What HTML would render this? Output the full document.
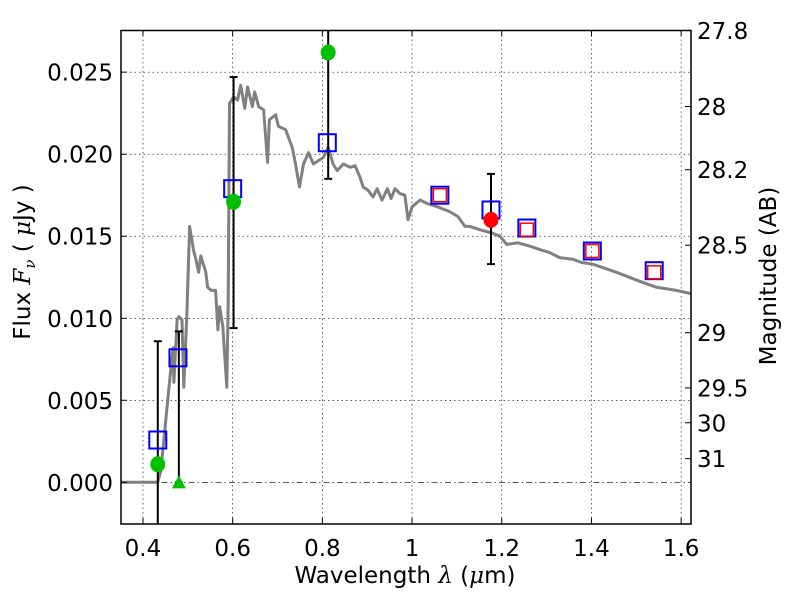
<!DOCTYPE html>
<html><head><meta charset="utf-8"><style>
html,body{margin:0;padding:0;background:#fff;overflow:hidden;width:800px;height:600px;}
svg{display:block;font-family:"DejaVu Sans","Liberation Sans",sans-serif;}
</style></head><body>
<svg id="chart" width="800" height="600" viewBox="0 0 800 600" xmlns="http://www.w3.org/2000/svg"></svg>
<script>
const specWave=[0.351,0.433,0.440,0.451,0.458,0.467,0.469,0.476,0.480,0.487,0.491,0.498,0.504,0.513,0.518,0.524,0.529,0.540,0.544,0.552,0.562,0.567,0.571,0.578,0.587,0.590,0.593,0.602,0.611,0.618,0.627,0.633,0.644,0.649,0.658,0.669,0.678,0.682,0.696,0.702,0.718,0.733,0.740,0.749,0.758,0.769,0.780,0.791,0.802,0.813,0.824,0.833,0.847,0.862,0.873,0.884,0.891,0.902,0.913,0.922,0.933,0.945,0.953,0.962,0.973,0.984,0.991,1.000,1.018,1.033,1.056,1.084,1.102,1.118,1.129,1.151,1.178,1.196,1.211,1.236,1.262,1.284,1.307,1.329,1.358,1.378,1.402,1.424,1.456,1.484,1.513,1.544,1.589,1.622];
const specFlux=[0,0,0.00075,0.0038,0.0058,0.0082,0.0061,0.0099,0.0101,0.0099,0.0058,0.0103,0.0156,0.0141,0.0136,0.0128,0.0138,0.0128,0.0119,0.0117,0.0117,0.0093,0.0107,0.0095,0.0058,0.0110,0.0231,0.0235,0.0233,0.0242,0.0228,0.0241,0.0229,0.0238,0.0229,0.0227,0.0195,0.0221,0.0224,0.0217,0.0215,0.0204,0.0194,0.0180,0.0194,0.0201,0.0194,0.0196,0.0198,0.0204,0.0194,0.0190,0.0194,0.0192,0.0193,0.0186,0.0180,0.0178,0.0174,0.0179,0.0172,0.0179,0.0173,0.0179,0.0176,0.0175,0.0160,0.0168,0.0172,0.0170,0.0168,0.0165,0.0162,0.0156,0.0156,0.0154,0.0152,0.0150,0.0145,0.0146,0.0144,0.0142,0.0140,0.0137,0.0136,0.0134,0.0133,0.0131,0.0128,0.0125,0.0122,0.0119,0.0117,0.0115];
const modelWave=[0.433,0.478,0.600,0.811,1.062,1.176,1.256,1.402,1.540];
const modelFlux=[0.00258,0.00759,0.0179,0.0207,0.0175,0.0166,0.0155,0.0141,0.0129];
const nirWave=[1.062,1.256,1.402,1.540];
const nirFlux=[0.0175,0.0154,0.0141,0.0128];
const greenWave=[0.433,0.602,0.813];
const greenFlux=[0.0011,0.0171,0.0262];
const limitWave=[0.480];
const limitFlux=[0];
const redWave=[1.176];
const redFlux=[0.0160];
const errWave=[0.433,0.480,0.602,0.813,1.176];
const errLow=[-0.01,0,0.0094,0.0185,0.0133];
const errHigh=[0.0086,0.0092,0.0247,0.03,0.0188];
const xTicks=[0.4,0.6,0.8,1.0,1.2,1.4,1.6];
const xTickLabels=["0.4","0.6","0.8","1","1.2","1.4","1.6"];
const yTicks=[0,0.005,0.010,0.015,0.020,0.025];
const yTickLabels=["0.000","0.005","0.010","0.015","0.020","0.025"];
const magTicks=[27.8,28,28.2,28.5,29,29.5,30,31];
const magTickLabels=["27.8","28","28.2","28.5","29","29.5","30","31"];

const L=121,R=691,T=30.5,B=524;
const XMIN=0.351,XMAX=1.622,YMIN=-0.00254,YMAX=0.02754;
const sx=v=>L+(v-XMIN)/(XMAX-XMIN)*(R-L);
const sy=v=>B-(v-YMIN)/(YMAX-YMIN)*(B-T);
const magToFlux=m=>Math.pow(10,(23.9-m)/2.5);
const svg=document.getElementById('chart');
const NS='http://www.w3.org/2000/svg';
function mk(tag,attrs,parent){const e=document.createElementNS(NS,tag);for(const k in attrs)e.setAttribute(k,attrs[k]);(parent||svg).appendChild(e);return e;}
const clip=mk('clipPath',{id:'pc'});mk('rect',{x:L,y:T,width:R-L,height:B-T},clip);

xTicks.forEach((t,i)=>{const g=mk('line',{x1:sx(t),x2:sx(t),y1:T,y2:B,stroke:'#000','stroke-width':0.6,'stroke-dasharray':'1.5,3'});

});
yTicks.forEach((t,i)=>{const g=mk('line',{x1:L,x2:R,y1:sy(t),y2:sy(t),stroke:'#000','stroke-width':0.6,'stroke-dasharray':t===0?'6,3,1.5,3':'1.5,3'});

});

const plot=mk('g',{'clip-path':'url(#pc)'});


let d='';specWave.forEach((w,i)=>{d+=(i?'L':'M')+sx(w).toFixed(1)+','+sy(specFlux[i]).toFixed(1);});
const sp=mk('path',{d:d,fill:'none',stroke:'#808080','stroke-width':3,'stroke-linejoin':'round'},plot);


errWave.forEach((w,i)=>{const x=sx(w);
const e=mk('line',{x1:x,x2:x,y1:sy(errLow[i]),y2:sy(errHigh[i]),stroke:'#000','stroke-width':2},plot);


[errLow[i],errHigh[i]].forEach(v=>{mk('line',{x1:x-4,x2:x+4,y1:sy(v),y2:sy(v),stroke:'#000','stroke-width':2},plot);});});
modelWave.forEach((w,i)=>{const s=mk('rect',{x:sx(w)-8.5,y:sy(modelFlux[i])-8.5,width:17,height:17,fill:'none',stroke:'#0000ff','stroke-width':2},plot);

});
nirWave.forEach((w,i)=>{const s=mk('rect',{x:sx(w)-6.5,y:sy(nirFlux[i])-6.5,width:13,height:13,fill:'none',stroke:'#ff0000','stroke-width':1.5},plot);

});
greenWave.forEach((w,i)=>{const c=mk('ellipse',{cx:sx(w),cy:sy(greenFlux[i]),rx:7.5,ry:8,fill:'#00c000'},plot);

});
limitWave.forEach((w,i)=>{const x=sx(w),y=sy(limitFlux[i]);const p=mk('polygon',{points:`${x},${y-7} ${x-7},${y+6} ${x+7},${y+6}`,fill:'#00c000'},plot);

});
redWave.forEach((w,i)=>{const c=mk('ellipse',{cx:sx(w),cy:sy(redFlux[i]),rx:7.5,ry:8,fill:'#ff0000'},plot);

});

const fr=mk('rect',{x:L,y:T,width:R-L,height:B-T,fill:'none',stroke:'#000','stroke-width':1.5});


xTicks.forEach((t,i)=>{const x=sx(t);mk('line',{x1:x,x2:x,y1:B,y2:B-6,stroke:'#000'});mk('line',{x1:x,x2:x,y1:T,y2:T+6,stroke:'#000'});
const tx=mk('text',{x:x,y:B+32,'text-anchor':'middle','font-size':23});tx.textContent=xTickLabels[i];

});
yTicks.forEach((t,i)=>{const y=sy(t);mk('line',{x1:L,x2:L+6,y1:y,y2:y,stroke:'#000'});
const tx=mk('text',{x:113,y:y+8.5,'text-anchor':'end','font-size':23});tx.textContent=yTickLabels[i];

});
magTicks.forEach((m,i)=>{const y=sy(magToFlux(m));mk('line',{x1:R,x2:R-6,y1:y,y2:y,stroke:'#000'});
const tx=mk('text',{x:697,y:y+8.5,'font-size':23});tx.textContent=magTickLabels[i];

});
const xt=mk('text',{x:405,y:583,'text-anchor':'middle','font-size':23});
xt.innerHTML='Wavelength  <tspan font-family="DejaVu Serif" font-style="italic">λ</tspan> (<tspan font-family="DejaVu Serif" font-style="italic">μ</tspan>m)';


const yt=mk('text',{x:0,y:0,'text-anchor':'middle','font-size':23,transform:'translate(30,262) rotate(-90)'});
yt.innerHTML='Flux  <tspan font-family="DejaVu Serif" font-style="italic">F<tspan font-size="15" dy="5">ν</tspan></tspan><tspan dy="-5">  (  </tspan><tspan font-family="DejaVu Serif" font-style="italic">μ</tspan>Jy )';


const rt=mk('text',{x:0,y:0,'text-anchor':'middle','font-size':23,transform:'translate(776,276) rotate(-90)'});
rt.textContent='Magnitude (AB)';


</script>
</body></html>
